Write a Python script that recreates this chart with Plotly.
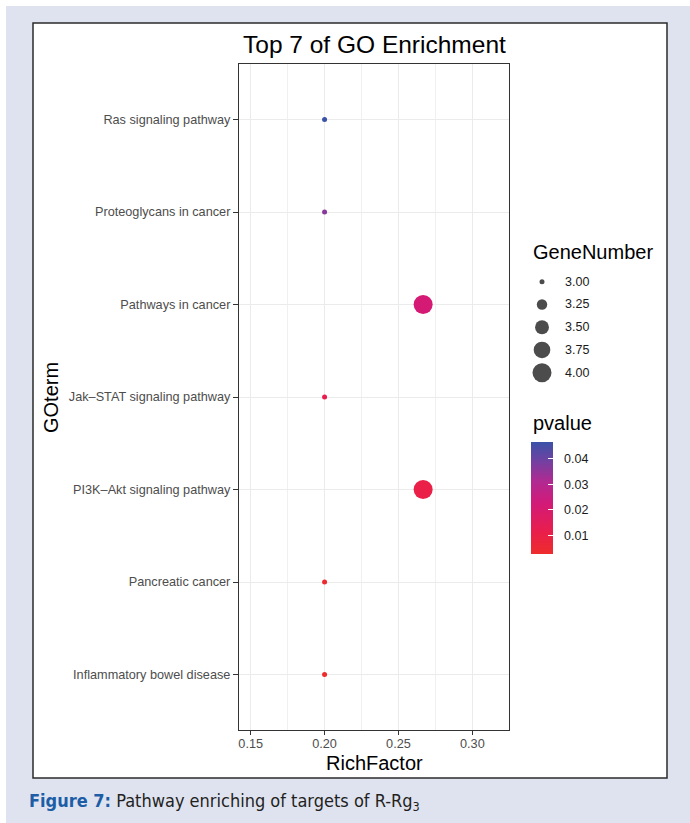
import math
import plotly.graph_objects as go

# ---------------- data ----------------
terms = [
    "Inflammatory bowel disease",
    "Pancreatic cancer",
    "PI3K–Akt signaling pathway",
    "Jak–STAT signaling pathway",
    "Pathways in cancer",
    "Proteoglycans in cancer",
    "Ras signaling pathway",
]
rich_factor = [0.2, 0.2, 0.2667, 0.2, 0.2667, 0.2, 0.2]
gene_number = [3, 3, 4, 3, 4, 3, 3]
pvalue = [0.0029, 0.0040, 0.0105, 0.0120, 0.0215, 0.0360, 0.0464]

size_legend_values = [3.00, 3.25, 3.50, 3.75, 4.00]
size_legend_labels = ["3.00", "3.25", "3.50", "3.75", "4.00"]
x_tick_values = [0.15, 0.20, 0.25, 0.30]
x_tick_labels = ["0.15", "0.20", "0.25", "0.30"]
p_tick_values = [0.01, 0.02, 0.03, 0.04]
p_tick_labels = ["0.01", "0.02", "0.03", "0.04"]

# ---------------- styling helpers ----------------
W, H = 690, 823
FONT = "Liberation Sans, Arial, Helvetica, sans-serif"


def fx(px):
    return px / W


def fy(py):
    return 1 - py / H


D_MIN, D_MAX = 5.0, 19.0
V_MIN, V_MAX = min(gene_number), max(gene_number)


def size_px(v):
    frac = (v - V_MIN) / (V_MAX - V_MIN)
    return math.sqrt(D_MIN ** 2 + frac * (D_MAX ** 2 - D_MIN ** 2))


P_MIN, P_MAX = min(pvalue), max(pvalue)
colorscale = [
    [0.0, "#EE2C2C"],
    [0.2, "#E91E4C"],
    [0.45, "#D21A78"],
    [0.65, "#B02A92"],
    [0.85, "#6A43A2"],
    [1.0, "#3A52A8"],
]

cb_common = dict(
    x=fx(530.7), xanchor="left", xref="paper",
    y=fy(497.9), yanchor="middle", yref="paper",
    len=112.3, lenmode="pixels",
    thickness=22, thicknessmode="pixels",
    outlinewidth=0,
    tickvals=p_tick_values,
    xpad=0, ypad=0,
)

fig = go.Figure()

# main dots (colorbar carries the labels)
fig.add_trace(go.Scatter(
    x=rich_factor,
    y=terms,
    mode="markers",
    marker=dict(
        size=[size_px(g) for g in gene_number],
        color=pvalue,
        colorscale=colorscale,
        cmin=P_MIN,
        cmax=P_MAX,
        line=dict(width=0),
        opacity=1,
        showscale=True,
        colorbar=dict(
            **cb_common,
            ticktext=p_tick_labels,
            ticks="outside", tickcolor="rgba(0,0,0,0)", ticklen=9, tickwidth=1,
            tickfont=dict(family=FONT, size=12.5, color="#1a1a1a"),
        ),
    ),
    showlegend=False,
    hoverinfo="skip",
))

# overlay colorbar that only draws the white tick marks inside the bar
fig.add_trace(go.Scatter(
    x=[None], y=[None],
    mode="markers",
    marker=dict(
        color=[P_MIN], colorscale=colorscale, cmin=P_MIN, cmax=P_MAX,
        showscale=True,
        colorbar=dict(
            **cb_common,
            ticks="inside", tickcolor="white", ticklen=5, tickwidth=1,
            showticklabels=False,
        ),
    ),
    xaxis="x2", yaxis="y2",
    showlegend=False,
    hoverinfo="skip",
))

# size legend circles (on a hidden helper axis)
fig.add_trace(go.Scatter(
    x=[0.5] * len(size_legend_values),
    y=size_legend_values,
    mode="markers",
    marker=dict(size=[size_px(v) for v in size_legend_values], color="black", line=dict(width=0)),
    xaxis="x2", yaxis="y2",
    showlegend=False,
    hoverinfo="skip",
))

annotations = []
for v, lab in zip(size_legend_values, size_legend_labels):
    annotations.append(dict(
        x=fx(563), xref="paper", xanchor="left",
        y=v, yref="y2", yanchor="middle",
        text=lab, showarrow=False,
        font=dict(family=FONT, size=12.5, color="#1a1a1a"),
    ))

annotations += [
    dict(x=fx(374), y=fy(45), xref="paper", yref="paper", xanchor="center", yanchor="middle",
         text="Top 7 of GO Enrichment", showarrow=False,
         font=dict(family=FONT, size=24.5, color="black")),
    dict(x=fx(374), y=fy(763), xref="paper", yref="paper", xanchor="center", yanchor="middle",
         text="RichFactor", showarrow=False,
         font=dict(family=FONT, size=20, color="black")),
    dict(x=fx(51), y=fy(398), xref="paper", yref="paper", xanchor="center", yanchor="middle",
         text="GOterm", textangle=-90, showarrow=False,
         font=dict(family=FONT, size=20, color="black")),
    dict(x=fx(531), y=fy(251.7), xref="paper", yref="paper", xanchor="left", yanchor="middle",
         text="GeneNumber", showarrow=False,
         font=dict(family=FONT, size=20, color="black")),
    dict(x=fx(531), y=fy(423), xref="paper", yref="paper", xanchor="left", yanchor="middle",
         text="pvalue", showarrow=False,
         font=dict(family=FONT, size=20, color="black")),
    dict(x=fx(27), y=fy(802), xref="paper", yref="paper", xanchor="left", yanchor="middle",
         text="<b><span style='color:#1C5DA6'>Figure 7:</span></b> Pathway enriching of targets of R-Rg<sub>3</sub>",
         showarrow=False,
         font=dict(family="Liberation Sans Narrow, DejaVu Sans Condensed, Roboto Condensed, Liberation Sans, sans-serif",
                   size=18, color="#231F20")),
]

shapes = [
    dict(type="rect", xref="paper", yref="paper", x0=fx(6), x1=1, y0=0, y1=fy(6),
         fillcolor="#DFE3F0", line=dict(width=0), layer="below"),
    dict(type="rect", xref="paper", yref="paper", x0=fx(33), x1=fx(667), y0=fy(778), y1=fy(23),
         fillcolor="white", line=dict(color="#2b2b2b", width=1.5), layer="below"),
]

fig.update_layout(
    width=W, height=H,
    margin=dict(l=0, r=0, t=0, b=0),
    paper_bgcolor="white",
    plot_bgcolor="white",
    font=dict(family=FONT),
    shapes=shapes,
    annotations=annotations,
    xaxis=dict(
        domain=[fx(239), fx(509)],
        range=[0.1421, 0.3248],
        tickvals=x_tick_values, ticktext=x_tick_labels,
        ticks="outside", ticklen=4, tickwidth=1, tickcolor="#333333",
        ticklabelstandoff=-2,
        tickfont=dict(family=FONT, size=12.7, color="#4D4D4D"),
        showgrid=True, gridcolor="#EBEBEB", gridwidth=1.1,
        minor=dict(dtick=0.025, tick0=0.15, showgrid=True, gridcolor="#F0F0F0", gridwidth=0.8, ticks=""),
        showline=True, linecolor="#333333", linewidth=1.2, mirror=True,
        zeroline=False, fixedrange=True,
    ),
    yaxis=dict(
        domain=[fy(730), fy(64)],
        type="category",
        categoryorder="array", categoryarray=terms,
        range=[-0.6, 6.6],
        ticks="outside", ticklen=5, tickwidth=1, tickcolor="#333333",
        tickfont=dict(family=FONT, size=12.7, color="#4D4D4D"),
        showgrid=True, gridcolor="#EBEBEB", gridwidth=1.1,
        showline=True, linecolor="#333333", linewidth=1.2, mirror=True,
        zeroline=False, fixedrange=True,
    ),
    xaxis2=dict(domain=[fx(530), fx(554)], range=[0, 1], anchor="y2", visible=False, fixedrange=True),
    yaxis2=dict(domain=[fy(385), fy(270)], range=[4.135, 2.871], anchor="x2", visible=False, fixedrange=True),
)

fig.write_html(
    "out.html",
    config={"displayModeBar": False},
    post_script="document.body.style.margin='0';document.body.style.overflow='hidden';",
)
